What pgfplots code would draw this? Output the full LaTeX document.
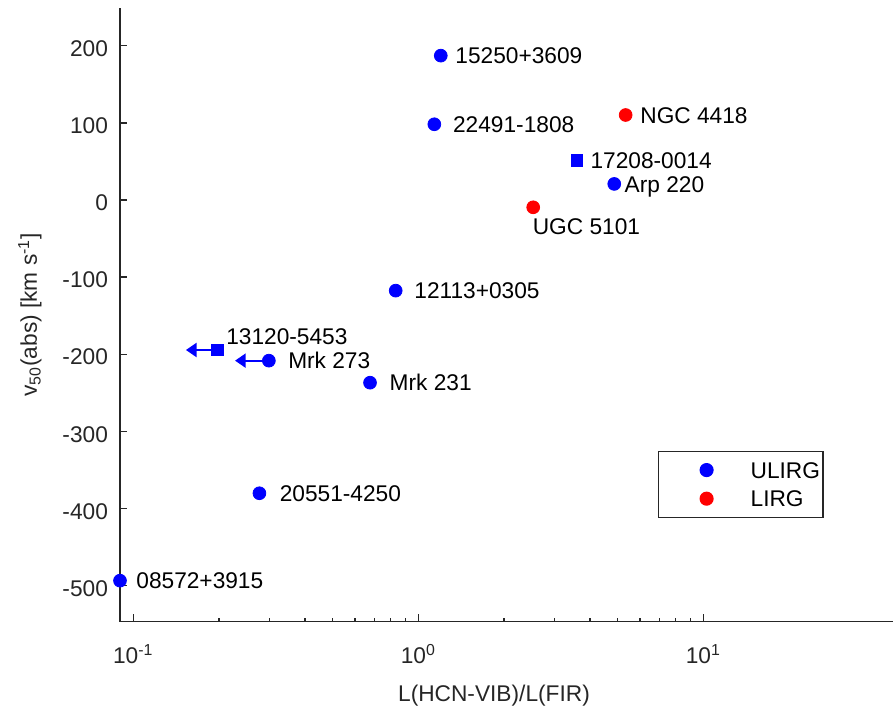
\documentclass[border=0pt]{standalone}
\usepackage{fontspec}
\setmainfont{Liberation Sans}
\usepackage{pgfplots}
\pgfplotsset{compat=1.18}
\usetikzlibrary{arrows.meta}
\definecolor{axgray}{gray}{0.15}

\begin{document}
\fontsize{11.35bp}{13.6bp}\selectfont
\begin{tikzpicture}[font=\fontsize{11.35bp}{13.6bp}\selectfont,
    lbl/.style={anchor=west, inner sep=0pt, text height=8.13bp, text depth=0pt}]
\useasboundingbox (0,0) rectangle (446.5bp,354bp);
\begin{axis}[
    at={(60bp,43.15bp)}, anchor=south west,
    scale only axis, width=386.5bp, height=306.85bp,
    xmode=log, xmin=0.0898, xmax=46.3, ymin=-547, ymax=249,
    axis x line*=bottom, axis y line*=left,
    axis line style={axgray, line width=0.65bp},
    tick style={axgray, line width=0.65bp},
    tick align=inside,
    major tick length=3.6bp, minor tick length=1.6bp,
    xtick={0.1,1,10},
    xticklabels={10\textsuperscript{-1},10\textsuperscript{0},10\textsuperscript{1}},
    ytick={-500,-400,-300,-200,-100,0,100,200},
    yticklabels={-500,-400,-300,-200,-100,0,100,200},
    xticklabel style={anchor=base, inner sep=0pt, yshift=-20.65bp, text=axgray},
    yticklabel style={anchor=east, inner sep=0pt, xshift=-5.85bp, yshift=-1.5bp, text=axgray},
    xlabel={L(HCN-VIB)/L(FIR)},
    ylabel={v\textsubscript{50}(abs) [km s\textsuperscript{-1}]},
    xlabel style={at={(axis description cs:0.4838,-0.1304)}, anchor=base, text=axgray},
    ylabel style={at={(axis description cs:-0.1074,0.5)}, anchor=base, text=axgray},
    clip=false,
    legend style={at={(rel axis cs:0.6956,0.2786)}, anchor=north west,
        draw=axgray, line width=0.65bp, fill=white,
        inner xsep=0pt, inner ysep=2.2bp, row sep=0pt,
        nodes={inner xsep=1.5bp, inner ysep=3bp, text height=8.3bp, text depth=0pt},
        cells={anchor=west}},
    legend image code/.code={
        \path (-23.8bp,0bp) (20.2bp,0bp);
        \draw[#1] plot coordinates {(0bp,0bp)};
    },
]
% ULIRG, filled circles
\addplot[only marks, mark=*, mark size=3.2bp, color=blue] coordinates {
    (1.199,187.2) (1.138,98.2) (4.87,20.8) (0.833,-117.6)
    (0.299,-208.4) (0.677,-237.0) (0.277,-380.4) (0.0898,-493.8)
};
\addlegendentry{ULIRG}
% LIRG, filled circles
\addplot[only marks, mark=*, mark size=3.2bp, color=red] coordinates {
    (5.34,110.2) (2.53,-9.5)
};
\addlegendentry{LIRG}
% ULIRG, squares
\addplot[only marks, mark=square*, mark size=2.9bp, color=blue, forget plot] coordinates {
    (3.60,51.0) (0.197,-194.6)
};
% upper limits
\addplot[blue, line width=1bp, -{Triangle[length=5.3bp,width=7bp]}, forget plot]
    coordinates {(0.197,-194.6) (0.153,-194.6)};
\addplot[blue, line width=1bp, -{Triangle[length=5.3bp,width=7bp]}, forget plot]
    coordinates {(0.299,-208.4) (0.2275,-208.4)};
% labels
\node[lbl, xshift=7.15bp] at (axis cs:1.199,187.2) {15250+3609};
\node[lbl, xshift=9.2bp] at (axis cs:1.138,98.2) {22491-1808};
\node[lbl, xshift=7.15bp] at (axis cs:5.34,110.2) {NGC 4418};
\node[lbl, xshift=6.65bp] at (axis cs:3.60,51.0) {17208-0014};
\node[lbl, xshift=5bp] at (axis cs:4.87,20.8) {Arp 220};
\node[lbl, xshift=-0.4bp, yshift=-9.7bp] at (axis cs:2.53,-9.5) {UGC 5101};
\node[lbl, xshift=9.15bp] at (axis cs:0.833,-117.6) {12113+0305};
\node[lbl, xshift=4.35bp, yshift=6.65bp] at (axis cs:0.197,-194.6) {13120-5453};
\node[lbl, xshift=9.5bp] at (axis cs:0.299,-208.4) {Mrk 273};
\node[lbl, xshift=9.65bp] at (axis cs:0.677,-237.0) {Mrk 231};
\node[lbl, xshift=10bp] at (axis cs:0.277,-380.4) {20551-4250};
\node[lbl, xshift=8bp] at (axis cs:0.0898,-493.8) {08572+3915};
\end{axis}
\end{tikzpicture}
\end{document}
